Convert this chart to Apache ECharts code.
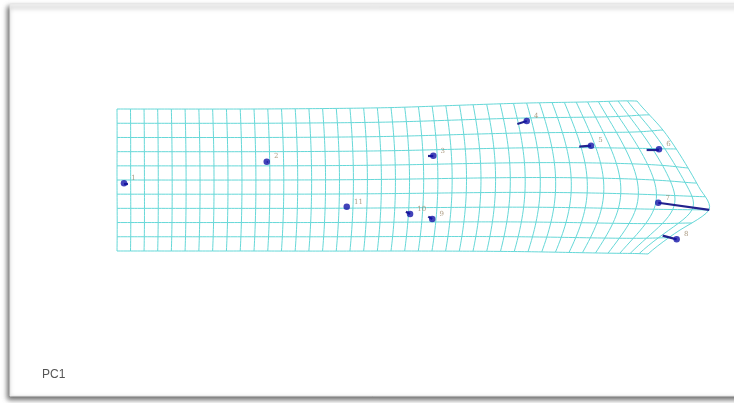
<!DOCTYPE html>
<html>
<head>
<meta charset="utf-8">
<style>
  html, body { margin: 0; padding: 0; background: #ffffff; }
  #chart { width: 734px; height: 403px; }
</style>
<script src="https://cdn.jsdelivr.net/npm/echarts@6/dist/echarts.min.js"></script>
</head>
<body>
<div id="chart"></div>
<script>
// Landmark labels
const landmarkIds = ['1', '2', '3', '4', '5', '6', '7', '8', '9', '10', '11'];
// Reference (consensus) landmark positions, grid units
const refX = [0.51, 10.93, 23.09, 29.91, 34.60, 39.56, 39.51, 40.85, 23.01, 21.39, 16.77];
const refY = [4.77, 6.29, 6.71, 9.15, 7.42, 7.16, 3.40, 0.82, 2.25, 2.61, 3.12];
// Target landmark positions along PC1, grid units
const tgtX = [0.80, 11.00, 22.70, 29.22, 33.74, 38.66, 43.23, 39.83, 22.72, 21.09, 16.77];
const tgtY = [4.77, 6.29, 6.74, 8.94, 7.35, 7.16, 2.89, 1.08, 2.42, 2.77, 3.12];
// Grid nodes (col, row) and where they sit on the deformed grid
const nodeFrom = [[0, 0], [0, 5], [0, 10], [10, 0], [10, 10], [20, 0], [20, 10], [30, 10],
                  [40, 10], [40, 8], [40, 6], [40, 4.5], [40, 3], [40, 1.5], [40, 0], [30, 0]];
const nodeTo   = [[0, 0], [0, 5], [0, 10], [10, 0], [10, 10], [20, 0], [20, 10.1], [29.9, 10.42],
                  [37.96, 10.56], [39.85, 8.52], [41.68, 5.85], [42.6, 4.3], [43.21, 2.89], [41.1, 1.48], [38.76, -0.21], [30, -0.05]];
// Undeformed grid extent (cells)
const gridCols = 40;
const gridRows = 10;

// ---- thin-plate spline through the grid nodes ----
function U(r2) { return r2 === 0 ? 0 : r2 * Math.log(r2); }
function solve(A, b) {
  const m = b.length;
  const M = A.map((row, i) => row.concat([b[i]]));
  for (let c = 0; c < m; c++) {
    let p = c;
    for (let r = c + 1; r < m; r++) if (Math.abs(M[r][c]) > Math.abs(M[p][c])) p = r;
    [M[c], M[p]] = [M[p], M[c]];
    for (let r = 0; r < m; r++) {
      if (r === c) continue;
      const f = M[r][c] / M[c][c];
      for (let k = c; k <= m; k++) M[r][k] -= f * M[c][k];
    }
  }
  return M.map((row, i) => row[m] / row[i]);
}
const srcX = nodeFrom.map(p => p[0]);
const srcY = nodeFrom.map(p => p[1]);
const dstX = nodeTo.map(p => p[0]);
const dstY = nodeTo.map(p => p[1]);
const n = srcX.length;
const L = [];
for (let i = 0; i < n + 3; i++) L.push(new Array(n + 3).fill(0));
for (let i = 0; i < n; i++) {
  for (let j = 0; j < n; j++) {
    const dx = srcX[i] - srcX[j], dy = srcY[i] - srcY[j];
    L[i][j] = U(dx * dx + dy * dy);
  }
  L[i][n] = 1; L[i][n + 1] = srcX[i]; L[i][n + 2] = srcY[i];
  L[n][i] = 1; L[n + 1][i] = srcX[i]; L[n + 2][i] = srcY[i];
}
const wx = solve(L, dstX.concat([0, 0, 0]));
const wy = solve(L, dstY.concat([0, 0, 0]));
function warp(x, y) {
  let fx = wx[n] + wx[n + 1] * x + wx[n + 2] * y;
  let fy = wy[n] + wy[n + 1] * x + wy[n + 2] * y;
  for (let i = 0; i < n; i++) {
    const dx = x - srcX[i], dy = y - srcY[i];
    const u = U(dx * dx + dy * dy);
    fx += wx[i] * u; fy += wy[i] * u;
  }
  return [fx, fy];
}

// Deformed grid lines
const gridLines = [];
const step = 0.25;
for (let c = 0; c <= gridCols; c++) {
  const pts = [];
  for (let y = 0; y <= gridRows + 1e-9; y += step) pts.push(warp(c, y));
  gridLines.push({ coords: pts });
}
for (let r = 0; r <= gridRows; r++) {
  const pts = [];
  for (let x = 0; x <= gridCols + 1e-9; x += step) pts.push(warp(x, r));
  gridLines.push({ coords: pts });
}

const vectors = refX.map((x, i) => ({ coords: [[x, refY[i]], [tgtX[i], tgtY[i]]] }));
const dots = refX.map((x, i) => ({ value: [x, refY[i]], name: landmarkIds[i] }));

const chart = echarts.init(document.getElementById('chart'), null, { renderer: 'canvas' });
chart.setOption({
  backgroundColor: '#ffffff',
  animation: false,
  graphic: [
    {
      type: 'rect', z: -10,
      shape: { x: 10, y: 4, width: 740, height: 392 },
      style: {
        fill: '#ffffff', stroke: '#e6e6e6', lineWidth: 1,
        shadowBlur: 5, shadowOffsetX: -2, shadowOffsetY: 3,
        shadowColor: 'rgba(0,0,0,0.6)'
      }
    },
    {
      type: 'text', left: 42, top: 369, z: 10,
      style: { text: 'PC1', fill: '#555555', font: '12px "Liberation Sans", Arial, sans-serif' }
    }
  ],
  grid: { left: 117, top: 109, width: 45 * 13.7, height: 142, containLabel: false },
  xAxis: { type: 'value', min: 0, max: 45, show: false },
  yAxis: { type: 'value', min: 0, max: 10, show: false },
  series: [
    {
      type: 'lines', coordinateSystem: 'cartesian2d', polyline: true,
      data: gridLines, silent: true, clip: false,
      lineStyle: { color: '#66d8d8', width: 1, opacity: 1 }
    },
    {
      type: 'lines', coordinateSystem: 'cartesian2d',
      data: vectors, silent: true, clip: false,
      lineStyle: { color: '#22228e', width: 2.2, opacity: 1 }
    },
    {
      type: 'scatter', data: dots, clip: false,
      symbolSize: 6.5,
      itemStyle: { color: '#1414a8' },
      label: {
        show: true, formatter: '{b}', position: 'right', offset: [-1, -5],
        fontSize: 7, color: '#9a8668', fontFamily: '"DejaVu Serif", serif'
      }
    }
  ]
});
</script>
</body>
</html>
